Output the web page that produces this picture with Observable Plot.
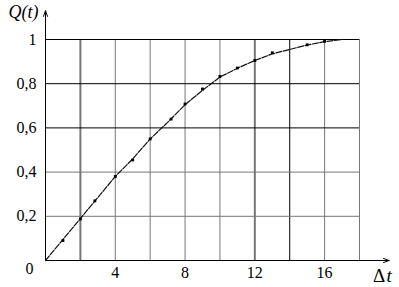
<!DOCTYPE html>
<html>
<head>
<meta charset="utf-8">
<script src="https://cdn.jsdelivr.net/npm/d3@7"></script>
<script src="https://cdn.jsdelivr.net/npm/@observablehq/plot@0.6"></script>
<style>
  body { margin: 0; background: #fff; }
  #chart svg { display: block; }
  #chart svg, #chart svg text { font-family: "Times New Roman", Times, "Liberation Serif", "DejaVu Serif", serif !important; }
</style>
</head>
<body>
<div id="chart"></div>
<script>
// Data
const dt = [0, 1, 2, 3, 4, 5, 6, 7, 8, 9, 10, 11, 12, 13, 14, 15, 16, 17];
const Q  = [0, 0.095, 0.19, 0.285, 0.38, 0.46, 0.55, 0.625, 0.705, 0.77, 0.83, 0.87, 0.905, 0.935, 0.955, 0.975, 0.99, 1.0];
// points marked with dots
const markedDt = [1, 2, 2.83, 4, 5, 6, 7.2, 8, 9, 10, 11, 12, 13, 15, 16];
const markedQ  = [0.09, 0.188, 0.27, 0.38, 0.455, 0.55, 0.64, 0.708, 0.776, 0.833, 0.871, 0.905, 0.94, 0.976, 0.992];

const xGrid = [2, 4, 6, 8, 10, 12, 14, 16, 18];
const yGrid = [0.2, 0.4, 0.6, 0.8, 1];
const xTickLabels = [4, 8, 12, 16];
const yTickLabels = [0.2, 0.4, 0.6, 0.8, 1];
const xDomain = [0, 18];
const yDomain = [0, 1];
const xAxisEnd = 19.7;   // arrow tip of the Δt axis
const yAxisEnd = 1.13;   // arrow tip of the Q(t) axis

const curve = dt.map((d, i) => ({x: d, y: Q[i]}));
const marked = markedDt.map((d, i) => ({x: d, y: markedQ[i]}));

const darkX = new Set([14]);
const thickX = new Set([2, 12]);
const darkY = new Set([0.6, 0.8, 1]);
const serif = "Times New Roman, Times, Liberation Serif, DejaVu Serif, serif";

const chart = Plot.plot({
  width: 399,
  height: 287,
  marginLeft: 45,
  marginRight: 40,
  marginTop: 39,
  marginBottom: 27,
  x: {domain: xDomain},
  y: {domain: yDomain},
  style: {background: "#fff"},
  marks: [
    Plot.ruleX(xGrid, {
      y1: 0, y2: 1,
      stroke: d => darkX.has(d) ? "#000" : "#777",
      strokeWidth: d => thickX.has(d) ? 2 : 1
    }),
    Plot.ruleY(yGrid, {
      x1: 0, x2: 18,
      stroke: d => darkY.has(d) ? "#000" : "#777",
      strokeWidth: 1
    }),
    // axes with arrows
    Plot.arrow([{x1: 0, y1: 0, x2: xAxisEnd, y2: 0}], {
      x1: "x1", y1: "y1", x2: "x2", y2: "y2",
      stroke: "#000", strokeWidth: 1, headLength: 9, headAngle: 40
    }),
    Plot.arrow([{x1: 0, y1: 0, x2: 0, y2: yAxisEnd}], {
      x1: "x1", y1: "y1", x2: "x2", y2: "y2",
      stroke: "#000", strokeWidth: 1, headLength: 9, headAngle: 40
    }),
    Plot.line(curve, {x: "x", y: "y", stroke: "#111", strokeWidth: 1.2, strokeDasharray: "6,1.5"}),
    Plot.dot(marked, {x: "x", y: "y", symbol: "square", r: 1.6, fill: "#000"}),
    Plot.axisX(xTickLabels, {
      tickSize: 0, tickPadding: 6, fontSize: 16, fill: "#000", label: null, fontFamily: serif
    }),
    Plot.axisY(yTickLabels, {
      tickSize: 0, tickPadding: 9, fontSize: 16, fill: "#000", label: null, fontFamily: serif,
      tickFormat: d => String(d).replace(".", ",")
    }),
    Plot.text(["0"], {x: 0, y: 0, dx: -16, dy: 8, fontSize: 16, fill: "#000", fontFamily: serif}),
    Plot.text(["Q(t)"], {x: 0, y: yAxisEnd, dx: -22, dy: 1, fontSize: 18, fontStyle: "italic", fill: "#000", fontFamily: serif}),
    Plot.text(["Δ"], {x: xAxisEnd, y: 0, dx: -10, dy: 15, fontSize: 19, fill: "#000", fontFamily: serif}),
    Plot.text(["t"], {x: xAxisEnd, y: 0, dx: 0, dy: 15, fontSize: 19, fontStyle: "italic", fill: "#000", fontFamily: serif})
  ]
});
document.getElementById("chart").appendChild(chart);
</script>
</body>
</html>
